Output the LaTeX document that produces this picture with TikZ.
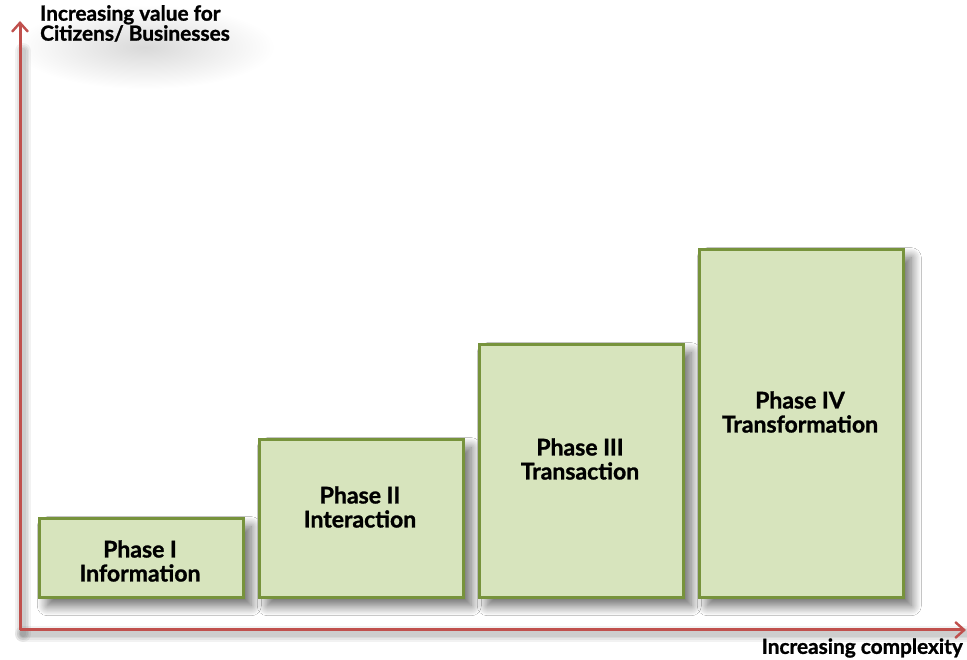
\documentclass[tikz,border=0pt]{standalone}
\usepackage{fontspec}
\setmainfont{Lato}[BoldFeatures={FakeBold=1.2}]
\usetikzlibrary{arrows.meta,shadows.blur}

\definecolor{axisred}{HTML}{C0504D}
\definecolor{phaseedge}{HTML}{77933C}
\definecolor{phasefill}{HTML}{D7E4BD}

\tikzset{
  phasebox/.style={draw=phaseedge, fill=phasefill, line width=2.6pt,
    minimum width=204pt, anchor=south west, inner sep=0pt,
    blur shadow={shadow xshift=8pt, shadow yshift=-8pt,
      shadow blur radius=10pt, shadow blur steps=16, shadow opacity=60}},
  phaselabel/.style={font=\bfseries\fontsize{23}{24}\selectfont, align=center, text=black},
  axisline/.style={draw=axisred, line width=3pt,
    -{Straight Barb[length=9pt,width=16pt,line width=2.4pt]}},
  axistext/.style={font=\bfseries\fontsize{20.8}{20}\selectfont, text=black},
}

\begin{document}
\begin{tikzpicture}[x=1pt,y=1pt]
  \useasboundingbox[fill=white] (0,0) rectangle (967,659);

  % soft haze behind the vertical axis caption
  \shade[inner color=black!15, outer color=white]
    (145,612) ellipse [x radius=130, y radius=42];

  % axes, with a soft shadow underneath
  \coordinate (origin) at (20,29);
  \coordinate (ytip) at (20,638);
  \coordinate (xtip) at (966,29);
  \foreach \w in {16,12,9,6}{
    \draw[line width=\w pt, black, opacity=0.05, line cap=round]
      ([shift={(3,-4)}]origin) -- ([shift={(3,-4)}]xtip);
    \draw[line width=\w pt, black, opacity=0.05, line cap=round]
      ([shift={(3,-4)}]origin) -- ([shift={(3,-30)}]ytip);
  }
  \draw[axisline] (origin) -- (ytip);
  \draw[axisline] (origin) -- (xtip);

  % phase boxes
  \node[phasebox, minimum height=79pt]  (p1) at (38,60) {};
  \node[phasebox, minimum height=158pt] (p2) at (258,60) {};
  \node[phasebox, minimum height=253pt] (p3) at (478,60) {};
  \node[phasebox, minimum height=348pt] (p4) at (698,60) {};

  \node[phaselabel] (t1) at (140,98)  {Phase I\\Information};
  \node[phaselabel] (t2) at (360,152) {Phase II\\Interaction};
  \node[phaselabel] (t3) at (580,200) {Phase III\\Transaction};
  \node[phaselabel] (t4) at (800,247) {Phase IV\\Transformation};

  % axis captions
  \node[axistext, anchor=north west, align=left, inner sep=0pt] (ylabel) at (40,654)
    {Increasing value for\\Citizens/ Businesses};
  \node[axistext, anchor=east, inner sep=0pt] (xlabel) at (963,11)
    {Increasing complexity};
\end{tikzpicture}
\end{document}
